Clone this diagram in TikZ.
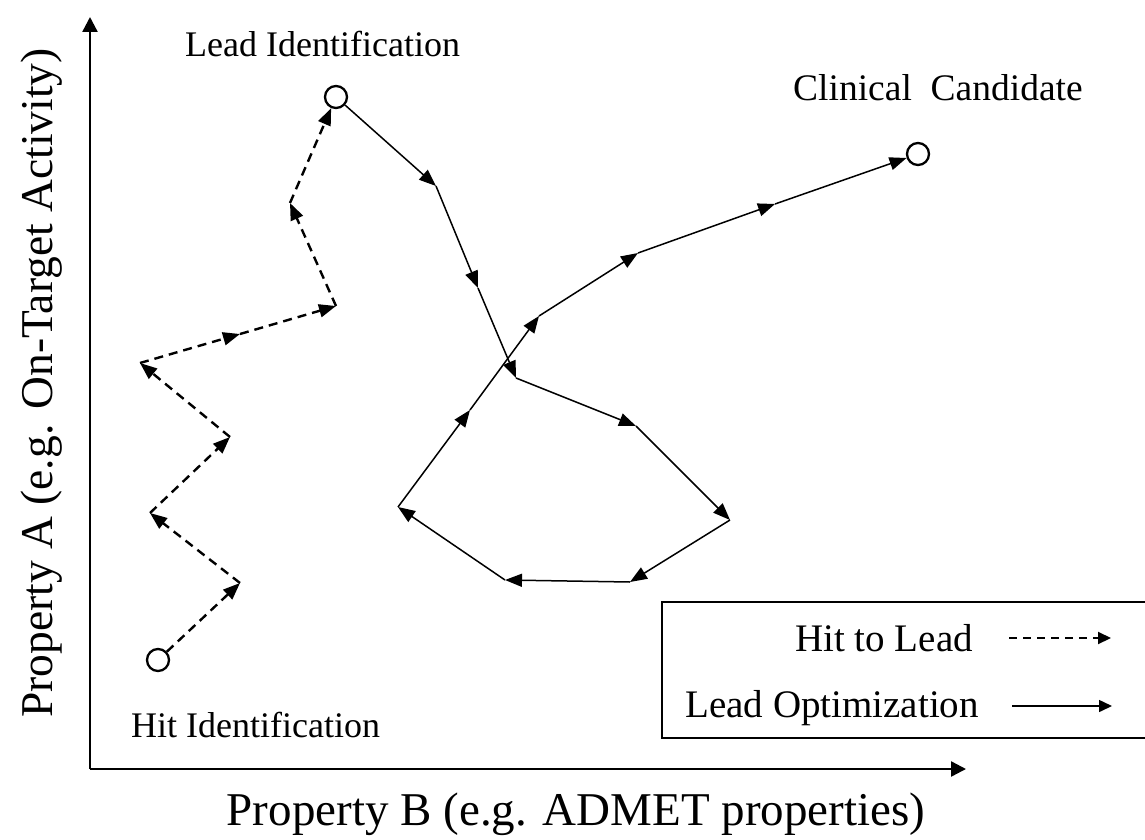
\documentclass[tikz,border=0pt]{standalone}
\usepackage{fontspec}
\setmainfont{Liberation Serif}
\usetikzlibrary{arrows.meta}
\begin{document}
\begin{tikzpicture}[x=1pt,y=-1pt,
  axis/.style={line width=2.4pt,-{Triangle[length=15pt,width=15pt]}},
  hitlead/.style={line width=2.4pt,dash pattern=on 9pt off 6pt,-{Triangle[length=17pt,width=13pt]}},
  leadopt/.style={line width=1.5pt,-{Triangle[length=17pt,width=13pt]}},
  milestone/.style={circle,draw,line width=2.3pt,minimum size=22pt,inner sep=0pt,fill=white},
  lbl/.style={font=\fontsize{36}{40}\selectfont,anchor=base west,inner sep=0pt},
  legtxt/.style={font=\fontsize{39}{44}\selectfont,anchor=base east,inner sep=0pt},
  axlbl/.style={font=\fontsize{47}{52}\selectfont,anchor=base,inner sep=0pt}]
\useasboundingbox (0,0) rectangle (1145,840);
\fill[white] (0,0) rectangle (1145,840);

% axes
\coordinate (o) at (90,769);
\coordinate (ytip) at (90,17);
\coordinate (xtip) at (966,769);
\draw[axis] (o) -- (ytip);
\draw[axis] (o) -- (xtip);

% milestones
\node[milestone] (hit) at (158,660) {};
\node[milestone] (lead) at (336,97) {};
\node[milestone] (cand) at (918,154) {};

% hit-to-lead path points
\coordinate (p1) at (240,583);
\coordinate (p2) at (150,513);
\coordinate (p3) at (230,437);
\coordinate (p4) at (140,363);
\coordinate (p5) at (240,334);
\coordinate (p6) at (336,306);
\coordinate (p7) at (290,203);

\draw[hitlead] (hit) -- (p1);
\draw[hitlead] (p1) -- (p2);
\draw[hitlead] (p2) -- (p3);
\draw[hitlead] (p3) -- (p4);
\draw[hitlead] (p4) -- (p5);
\draw[hitlead] (p5) -- (p6);
\draw[hitlead] (p6) -- (p7);
\draw[hitlead] (p7) -- (lead);

% lead optimization path points
\coordinate (q1) at (436,186);
\coordinate (q2) at (478,288);
\coordinate (q3) at (516,378);
\coordinate (q4) at (636,426);
\coordinate (q5) at (730,520);
\coordinate (q6) at (630,582);
\coordinate (q7) at (505,580);
\coordinate (q8) at (398,507);
\coordinate (q9) at (470,410);
\coordinate (q10) at (539,316);
\coordinate (q11) at (638,253);
\coordinate (q12) at (775,204);

\draw[leadopt] (lead) -- (q1);
\draw[leadopt] (q1) -- (q2);
\draw[leadopt] (q2) -- (q3);
\draw[leadopt] (q3) -- (q4);
\draw[leadopt] (q4) -- (q5);
\draw[leadopt] (q5) -- (q6);
\draw[leadopt] (q6) -- (q7);
\draw[leadopt] (q7) -- (q8);
\draw[leadopt] (q8) -- (q9);
\draw[leadopt] (q9) -- (q10);
\draw[leadopt] (q10) -- (q11);
\draw[leadopt] (q11) -- (q12);
\draw[leadopt] (q12) -- (cand);

% labels
\node[lbl] (tlead) at (185,57) {Lead Identification};
\node[lbl,font=\fontsize{37.5}{42}\selectfont] (tcand) at (793,101) {Clinical\ \ Candidate};
\node[lbl] (thit) at (131,737) {Hit Identification};
\node[axlbl] (xl) at (576,825) {Property B (e.g. ADMET properties)};
\node[axlbl,rotate=90,font=\fontsize{45.5}{50}\selectfont] (yl) at (52,383) {Property A (e.g. On-Target Activity)};

% legend
\node[draw,line width=2.4pt,minimum width=520pt,minimum height=136pt,anchor=north west,inner sep=0pt] (legend) at (661,601) {};
\node[legtxt] (lh) at (973,651) {Hit to Lead};
\node[legtxt] (lo) at (979,717) {Lead Optimization};
\coordinate (lhs) at (1009,638);
\coordinate (lhe) at (1111,638);
\coordinate (los) at (1012,706);
\coordinate (loe) at (1112,706);
\draw[line width=2pt,dash pattern=on 8pt off 6pt,-{Triangle[length=13pt,width=12pt]}] (lhs) -- (lhe);
\draw[line width=1.5pt,-{Triangle[length=13pt,width=12pt]}] (los) -- (loe);
\end{tikzpicture}
\end{document}
